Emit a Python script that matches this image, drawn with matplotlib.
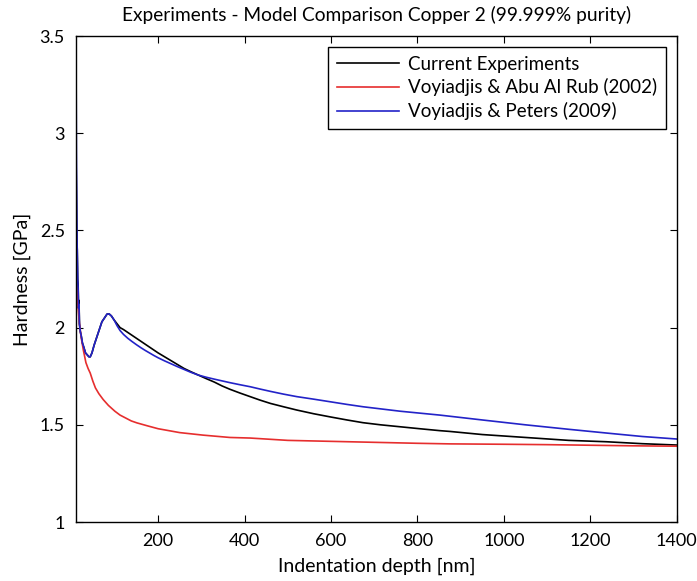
import numpy as np
import matplotlib
matplotlib.use('Agg')
import matplotlib.pyplot as plt

# indentation depth [nm] and hardness [GPa]
exp_depth = [10, 11, 12, 13, 14, 15, 16, 17, 18, 20, 22, 25, 28, 32, 36, 40, 43, 47, 52, 58, 64, 70, 76, 82, 87,
             92, 98, 105, 112, 120, 130, 140, 150, 160, 170, 180, 190, 200, 215, 230, 245, 260, 276, 293, 311,
             330, 348, 366, 390, 413, 436, 460, 490, 521, 560, 600, 637, 674, 715, 760, 805, 852, 875, 950,
             1050, 1150, 1237, 1320, 1400]
exp_hard = [2.93, 2.70, 2.45, 2.40, 2.25, 2.22, 2.10, 2.14, 2.02, 1.98, 1.96, 1.92, 1.90, 1.87, 1.86, 1.85, 1.85,
            1.87, 1.91, 1.95, 1.99, 2.03, 2.05, 2.07, 2.07, 2.06, 2.04, 2.02, 2.00, 1.99, 1.975, 1.96, 1.945,
            1.93, 1.915, 1.90, 1.885, 1.87, 1.85, 1.83, 1.81, 1.79, 1.773, 1.756, 1.738, 1.72, 1.70, 1.683,
            1.663, 1.645, 1.627, 1.61, 1.593, 1.576, 1.557, 1.54, 1.525, 1.511, 1.50, 1.49, 1.48, 1.47, 1.466,
            1.45, 1.435, 1.42, 1.413, 1.403, 1.396]

avr_depth = [10, 12, 15, 18, 22, 27, 33, 38, 43, 49, 55, 63, 73, 85, 100, 112, 125, 138, 151, 175, 200, 250,
             304, 366, 413, 500, 600, 700, 800, 875, 1000, 1100, 1200, 1300, 1400]
avr_hard = [2.25, 2.2, 2.1, 2.02, 1.95, 1.885, 1.82, 1.79, 1.766, 1.725, 1.69, 1.66, 1.63, 1.60, 1.57, 1.55,
            1.535, 1.52, 1.51, 1.495, 1.48, 1.46, 1.447, 1.435, 1.432, 1.42, 1.415, 1.41, 1.405, 1.402, 1.40,
            1.398, 1.395, 1.392, 1.39]

vp_depth = [10, 10.5, 11, 12, 13, 14, 15, 16, 17, 18, 20, 22, 25, 28, 32, 36, 40, 43, 47, 52, 58, 64, 70, 76,
            82, 87, 92, 98, 105, 112, 120, 130, 140, 150, 160, 170, 180, 190, 200, 214, 228, 244, 260, 276,
            293, 311, 330, 348, 366, 390, 413, 436, 460, 490, 521, 560, 600, 637, 674, 760, 852, 950, 1050,
            1150, 1250, 1320, 1400]
vp_hard = [3.5, 3.2, 2.9, 2.55, 2.38, 2.25, 2.20, 2.10, 2.12, 2.02, 1.98, 1.96, 1.92, 1.90, 1.87, 1.86, 1.85,
           1.85, 1.87, 1.91, 1.95, 1.99, 2.03, 2.05, 2.07, 2.07, 2.06, 2.04, 2.01, 1.985, 1.965, 1.945, 1.928,
           1.912, 1.897, 1.883, 1.87, 1.857, 1.845, 1.83, 1.816, 1.80, 1.785, 1.77, 1.756, 1.745, 1.735, 1.726,
           1.717, 1.706, 1.696, 1.684, 1.672, 1.658, 1.645, 1.632, 1.618, 1.605, 1.593, 1.57, 1.55, 1.525,
           1.50, 1.477, 1.455, 1.44, 1.427]

xticks = [200, 400, 600, 800, 1000, 1200, 1400]
yticks = [1, 1.5, 2, 2.5, 3, 3.5]
ytick_labels = ['1', '1.5', '2', '2.5', '3', '3.5']

plt.rcParams['font.family'] = ['Lato', 'DejaVu Sans']

fig = plt.figure(figsize=(6.97, 5.81), dpi=100)
ax = fig.add_axes([0.109, 0.1015, 0.862, 0.8365])

ax.plot(exp_depth, exp_hard, color='black', lw=1.2, label='Current Experiments')
ax.plot(avr_depth, avr_hard, color='#e62e2e', lw=1.2, label='Voyiadjis & Abu Al Rub (2002)')
ax.plot(vp_depth, vp_hard, color='#2323c8', lw=1.2, label='Voyiadjis & Peters (2009)')

ax.set_xlim(10, 1400)
ax.set_ylim(1, 3.5)
ax.set_xticks(xticks)
ax.set_yticks(yticks)
ax.set_yticklabels(ytick_labels)
ax.tick_params(direction='in', top=True, right=True, labelsize=13, length=5, width=0.8, pad=8)
for sp in ax.spines.values():
    sp.set_linewidth(1.0)

ax.set_xlabel('Indentation depth [nm]', fontsize=14, labelpad=6)
ax.set_ylabel('Hardness [GPa]', fontsize=14, labelpad=6)
ax.set_title('Experiments - Model Comparison Copper 2 (99.999% purity)', fontsize=13.8, pad=11)

leg = ax.legend(loc='upper right', fontsize=13.5, fancybox=False, framealpha=1, edgecolor='black',
                handlelength=3.3, borderaxespad=0.6, labelspacing=0.3, borderpad=0.45, handletextpad=0.5)
leg.get_frame().set_linewidth(1.0)

fig.savefig('out.png', dpi=100)
